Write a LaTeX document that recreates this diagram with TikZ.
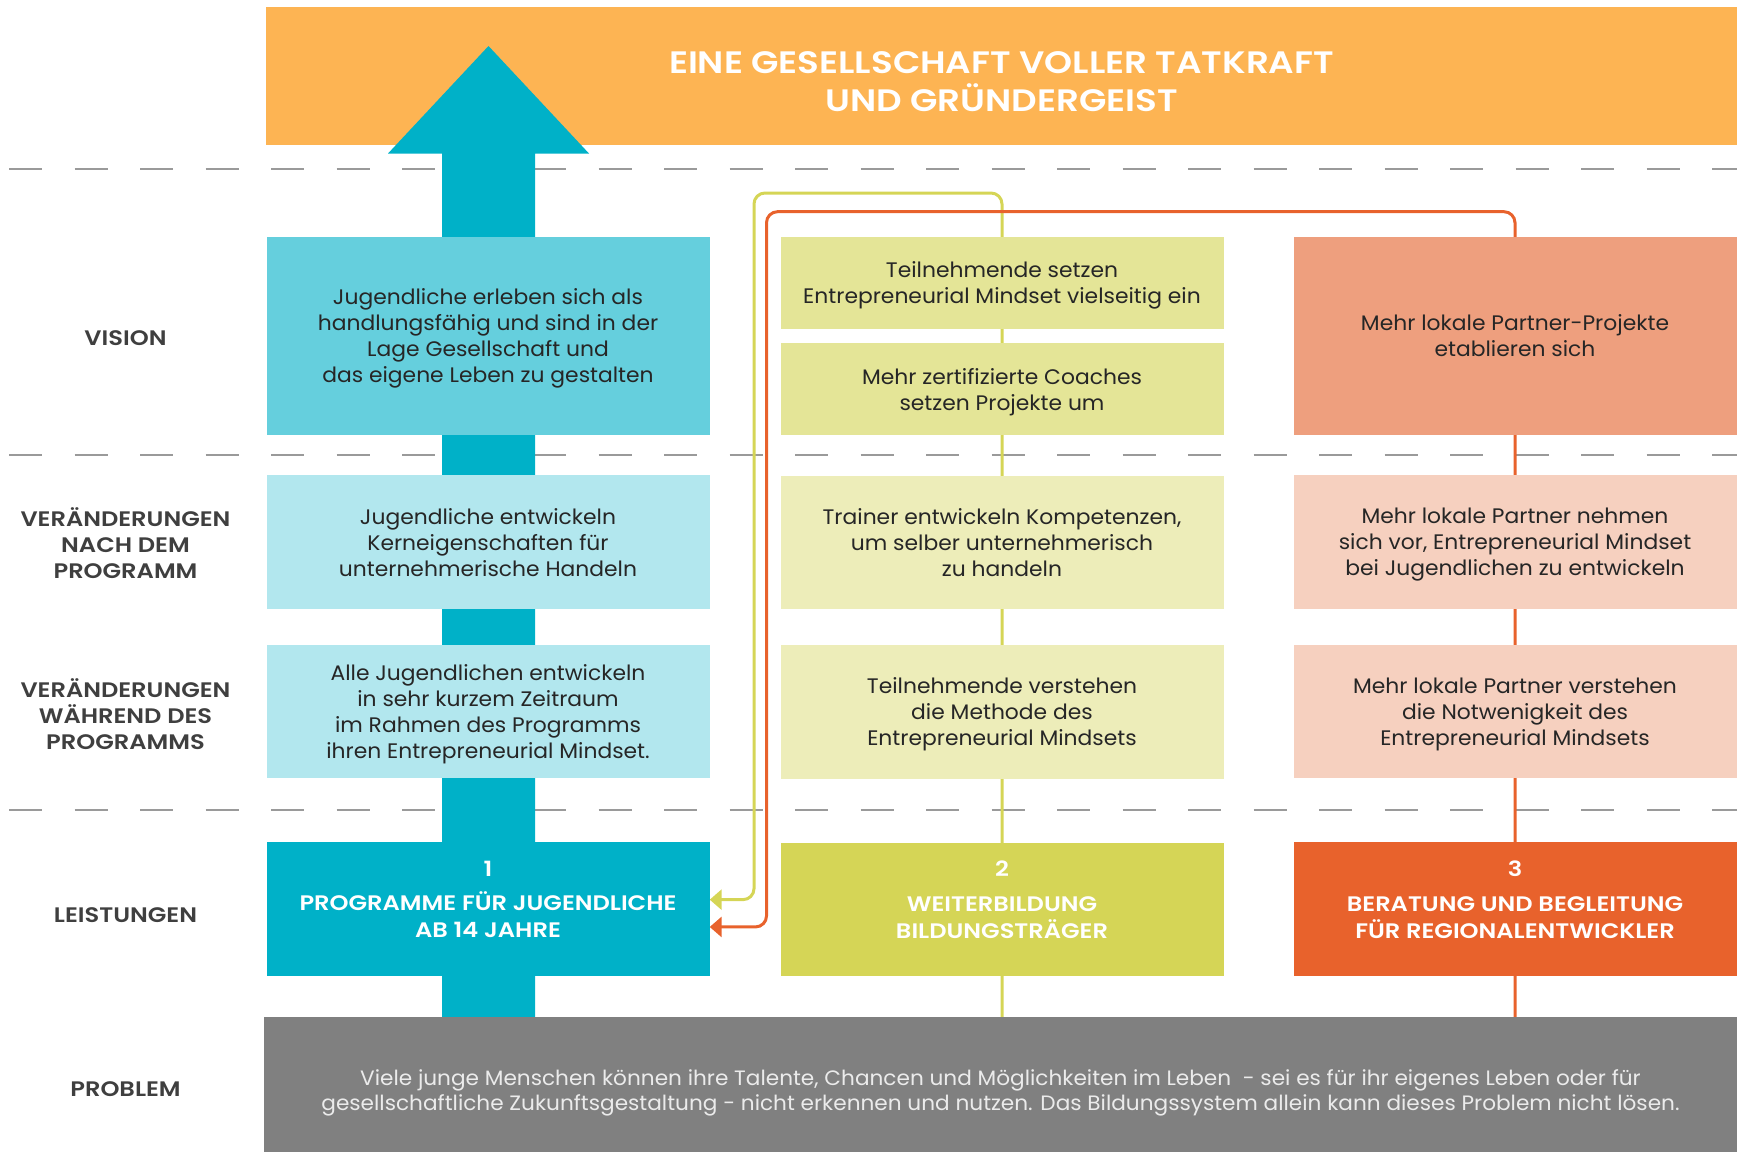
\documentclass[tikz,border=0pt]{standalone}
\usepackage{fontspec}
\IfFontExistsTF{Poppins SemiBold}{%
  \setmainfont{Poppins}[FakeStretch=1.04,BoldFont={Poppins SemiBold},BoldFeatures={FakeStretch=1.15}]%
}{%
  \setmainfont{Poppins}[FakeStretch=1.04,BoldFeatures={FakeStretch=1.12}]%
}
\usepackage{xcolor}
\usepackage{tikz}
\usetikzlibrary{positioning,arrows.meta,backgrounds}
\definecolor{tkorange}{HTML}{FDB453}
\definecolor{blaudunkel}{HTML}{00B1C8}
\definecolor{blauvision}{HTML}{65CFDD}
\definecolor{blauhell}{HTML}{B2E7EE}
\definecolor{gruendunkel}{HTML}{D5D556}
\definecolor{gruenvision}{HTML}{E4E597}
\definecolor{gruenhell}{HTML}{EDEDB9}
\definecolor{orangedunkel}{HTML}{E8622C}
\definecolor{orangevision}{HTML}{EE9F7E}
\definecolor{orangehell}{HTML}{F6D0BF}
\definecolor{problemgrau}{HTML}{808080}
\definecolor{trenngrau}{HTML}{9A9A9A}
\definecolor{textdunkel}{HTML}{262626}
\definecolor{labelgrau}{HTML}{3F3F3F}
\pgfdeclarelayer{hinten}
\pgfdeclarelayer{mitte}
\pgfsetlayers{hinten,mitte,main}
\tikzset{
    kasten/.style={
    rectangle,minimum width=443pt,inner sep=0pt,align=center,text=textdunkel,font=\fontsize{21}{26}\selectfont,text depth=-4pt
    },
    hoch/.style={kasten,minimum height=198.5pt},
    halb/.style={kasten,minimum height=92pt},
    mittel/.style={kasten,minimum height=133.5pt},
    leisttext/.style={align=center,text=white,font=\bfseries\fontsize{21}{27}\selectfont},
    zeile/.style={align=center,text=labelgrau,font=\bfseries\fontsize{21}{26}\selectfont},
    titel/.style={align=center,text=white,font=\bfseries\fontsize{31}{38}\selectfont},
  trenn/.style={draw=trenngrau, line width=2pt, dash pattern=on 33pt off 32.5pt},
  line/.style={draw, line width=3pt, rounded corners=11pt, -{Triangle[length=12pt,width=20pt]}},
}

\begin{document}
\begin{tikzpicture}[x=1pt,y=-1pt]
\useasboundingbox (0,0) rectangle (1741,1152);

  % ziel oben
  \begin{pgfonlayer}{hinten}
  \node[fill=tkorange,minimum width=1471pt,minimum height=138pt,inner sep=0pt,label={[titel,yshift=-6pt]center:{EINE GESELLSCHAFT VOLLER TATKRAFT\\UND GRÜNDERGEIST}}] (ziel) at (1001.5,76) {};
  \foreach \y in {168.5,455,810}
    \draw[trenn] (9,\y) -- (1737,\y);
  \end{pgfonlayer}

  % spalte 1
  \node[hoch,fill=blauvision] (v1) at (488,335.75) {Jugendliche erleben sich als\\handlungsfähig und sind in der\\Lage Gesellschaft und\\das eigene Leben zu gestalten};
  \node[mittel,fill=blauhell,below=40pt of v1] (n1) {Jugendliche entwickeln\\Kerneigenschaften für\\unternehmerische Handeln};
  \node[mittel,fill=blauhell,below=35.5pt of n1] (w1) {Alle Jugendlichen entwickeln\\in sehr kurzem Zeitraum\\im Rahmen des Programms\\ihren Entrepreneurial Mindset.};
  \node[mittel,fill=blaudunkel,below=63.5pt of w1,label={[leisttext,yshift=9.5pt]center:{1\\[7.6pt]PROGRAMME FÜR JUGENDLICHE\\AB 14 JAHRE}}] (l1) {};

  % spalte 2
  \node[halb,fill=gruenvision] (v2a) at (1002,282.5) {Teilnehmende setzen\\Entrepreneurial Mindset vielseitig ein};
  \node[halb,fill=gruenvision,below=14.5pt of v2a] (v2b) {Mehr zertifizierte Coaches\\setzen Projekte um};
  \node[mittel,fill=gruenhell,below=40pt of v2b] (n2) {Trainer entwickeln Kompetenzen,\\um selber unternehmerisch\\zu handeln};
  \node[mittel,fill=gruenhell,below=35.5pt of n2] (w2) {Teilnehmende verstehen\\die Methode des\\Entrepreneurial Mindsets};
  \node[mittel,fill=gruendunkel,below=63.5pt of w2,label={[leisttext,yshift=9.5pt]center:{2\\[7.6pt]WEITERBILDUNG\\BILDUNGSTRÄGER}}] (l2) {};

  % spalte 3
  \node[hoch,fill=orangevision] (v3) at (1515,335.75) {Mehr lokale Partner-Projekte\\etablieren sich};
  \node[mittel,fill=orangehell,below=40pt of v3] (n3) {Mehr lokale Partner nehmen\\sich vor, Entrepreneurial Mindset\\bei Jugendlichen zu entwickeln};
  \node[mittel,fill=orangehell,below=35.5pt of n3] (w3) {Mehr lokale Partner verstehen\\die Notwenigkeit des\\Entrepreneurial Mindsets};
  \node[mittel,fill=orangedunkel,below=63.5pt of w3,label={[leisttext,yshift=9.5pt]center:{3\\[7.6pt]BERATUNG UND BEGLEITUNG\\FÜR REGIONALENTWICKLER}}] (l3) {};

  % problem
  \node[fill=problemgrau,minimum width=1473pt,minimum height=135pt,inner sep=0pt,label={[align=center,text=white!92!black,font=\fontsize{20.8}{25.5}\selectfont,yshift=-8.5pt]center:{Viele junge Menschen können ihre Talente, Chancen und Möglichkeiten im Leben \ - sei es für ihr eigenes Leben oder für\\gesellschaftliche Zukunftsgestaltung - nicht erkennen und nutzen. Das Bildungssystem allein kann dieses Problem nicht lösen.}}] (prob) at (1000.5,1084.5) {};

  % zeilen links
  \node[zeile] (zvision) at (125.5,338.6) {VISION};
  \node[zeile] (znach) at (125.5,543.5) {VERÄNDERUNGEN\\NACH DEM\\PROGRAMM};
  \node[zeile] (zwaehrend) at (125.5,713.8) {VERÄNDERUNGEN\\WÄHREND DES\\PROGRAMMS};
  \node[zeile] (zleist) at (125.5,914.7) {LEISTUNGEN};
  \node[zeile] (zproblem) at (125.5,1089) {PROBLEM};

  % pfeil und rueckfuehrungen
  \begin{pgfonlayer}{mitte}
  \coordinate (spitze) at (488.5,46);
  \fill[blaudunkel] (prob.north -| 442,0) -- (442,153.5) -- (388,153.5) -- (spitze) -- (589,153.5) -- (535,153.5) -- (prob.north -| 535,0) -- cycle;
  \coordinate (gknick) at (754,193);
  \coordinate (oknick) at (766.5,211.7);
  \path[line,draw=gruendunkel] (prob.north -| v2a) |- (gknick) |- ([yshift=9.3pt]l1.east);
  \path[line,draw=orangedunkel] (prob.north -| v3) |- (oknick) |- ([yshift=-18pt]l1.east);
  \end{pgfonlayer}
\end{tikzpicture}
\end{document}
